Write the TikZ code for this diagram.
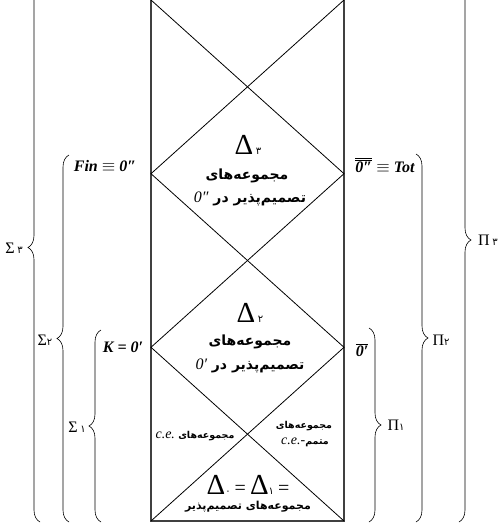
\documentclass[tikz,border=0pt]{standalone}
\usepackage{fontspec}
\setmainfont{Liberation Serif}
\newfontfamily\fa[Script=Arabic]{DejaVu Sans}
\TeXXeTstate=1
\usetikzlibrary{decorations.pathreplacing}
\newcommand\pd[1]{{\fa\fontsize{10}{10}\selectfont #1}}
\newcommand\dbar[1]{$\overline{\overline{\mbox{#1}}}$}
\newcommand\sbar[1]{$\overline{\mbox{#1}}$}
\newcommand\bigD{{\fontsize{29}{30}\selectfont Δ}}
\begin{document}
\begin{tikzpicture}[x=1pt,y=-1pt,
  fa/.style={font=\fa\bfseries\fontsize{14}{16}\selectfont, inner sep=0pt},
  fabot/.style={font=\fa\bfseries\fontsize{11}{13}\selectfont, inner sep=0pt},
  fasm/.style={font=\fa\bfseries\fontsize{9.5}{11}\selectfont, inner sep=0pt},
  lbl/.style={font=\bfseries\itshape\fontsize{16}{18}\selectfont, inner sep=0pt},
  greek/.style={font=\fontsize{16}{18}\selectfont, inner sep=0pt},
  brace/.style={decorate, decoration={brace, amplitude=12pt}, line width=0.6pt},
  edge/.style={line width=1.3pt, draw=black!75},
  diag/.style={line width=0.8pt}]
\useasboundingbox (0,0) rectangle (501,523);
\clip (0,0) rectangle (501,523);
% frame and diagonals
\coordinate (TL) at (151,-2);
\coordinate (TR) at (344,-2);
\coordinate (T0) at (151,0);
\coordinate (T1) at (344,0);
\coordinate (L1) at (151,173.7);
\coordinate (R1) at (344,173.7);
\coordinate (L2) at (151,347.3);
\coordinate (R2) at (344,347.3);
\coordinate (BL) at (151,521);
\coordinate (BR) at (344,521);
\draw[edge] (TL) -- (BL) -- (BR) -- (TR);
\draw[diag] (T0) -- (R1) -- (L2) -- (BR);
\draw[diag] (T1) -- (L1) -- (R2) -- (BL);
% braces
\coordinate (s3b) at (40,522); \coordinate (s3t) at (40,-27);
\coordinate (s2b) at (69,522); \coordinate (s2t) at (69,155);
\coordinate (s1b) at (101,522); \coordinate (s1t) at (101,330);
\coordinate (p1t) at (369,328); \coordinate (p1b) at (369,522);
\coordinate (p2t) at (416,154); \coordinate (p2b) at (416,522);
\coordinate (p3t) at (459,-42); \coordinate (p3b) at (459,522);
\draw[brace] (s3b) -- (s3t);
\draw[brace] (s2b) -- (s2t);
\draw[brace] (s1b) -- (s1t);
\draw[brace] (p1t) -- (p1b);
\draw[brace] (p2t) -- (p2b);
\draw[brace] (p3t) -- (p3b);
% brace labels
\node[greek] (s3) at (14,248) {Σ\,\pd{۳}};
\node[greek] (s2) at (45,340) {Σ\pd{۲}};
\node[greek] (s1) at (77,427) {Σ\,\pd{۱}};
\node[greek] (p1) at (396,425) {Π\pd{۱}};
\node[greek] (p2) at (441,340) {Π\pd{۲}};
\node[greek] (p3) at (488,240) {Π\,\pd{۳}};
% side labels
\node[lbl, anchor=base] (fin) at (105,171) {Fin $\equiv$ 0″};
\node[lbl, anchor=base] (k) at (123,352) {K = 0′};
\node[lbl, anchor=base] (tot) at (385,172) {\dbar{0″} $\equiv$ Tot};
\node[lbl, anchor=base] (ob) at (362,356) {\sbar{0′}};
% Delta 3
\node[greek] (d3) at (248,145) {\bigD\,\pd{۳}};
\node[fa] (t3a) at (247,176) {\beginR مجموعه‌های\endR};
\node[fa] (t3b) at (250,199) {\beginR تصمیم‌پذیر در \beginL{\rmfamily\mdseries\itshape\fontsize{16}{16}\selectfont 0″}\endL\endR};
% Delta 2
\node[greek] (d2) at (250,313) {\bigD\,\pd{۲}};
\node[fa] (t2a) at (250,342) {\beginR مجموعه‌های\endR};
\node[fa] (t2b) at (250,366) {\beginR تصمیم‌پذیر در \beginL{\rmfamily\mdseries\itshape\fontsize{16}{16}\selectfont 0′}\endL\endR};
% c.e. regions
\node[fasm] (ce) at (195,436) {\beginR مجموعه‌های \beginL{\rmfamily\mdseries\itshape\fontsize{14}{14}\selectfont c.e.}\endL\endR};
\node[fasm] (coa) at (304,426) {\beginR مجموعه‌های\endR};
\node[fasm] (cob) at (305,442) {\beginR متمم\beginL{\rmfamily\mdseries\itshape\fontsize{14}{14}\selectfont c.e.-}\endL\endR};
% bottom
\node[greek] (d01) at (248,485) {\bigD\pd{۰} {\fontsize{20}{20}\selectfont =} \bigD\pd{۱} {\fontsize{20}{20}\selectfont =}};
\node[fabot] (dec) at (248,507) {\beginR مجموعه‌های تصمیم‌پذیر\endR};
\end{tikzpicture}
\end{document}
